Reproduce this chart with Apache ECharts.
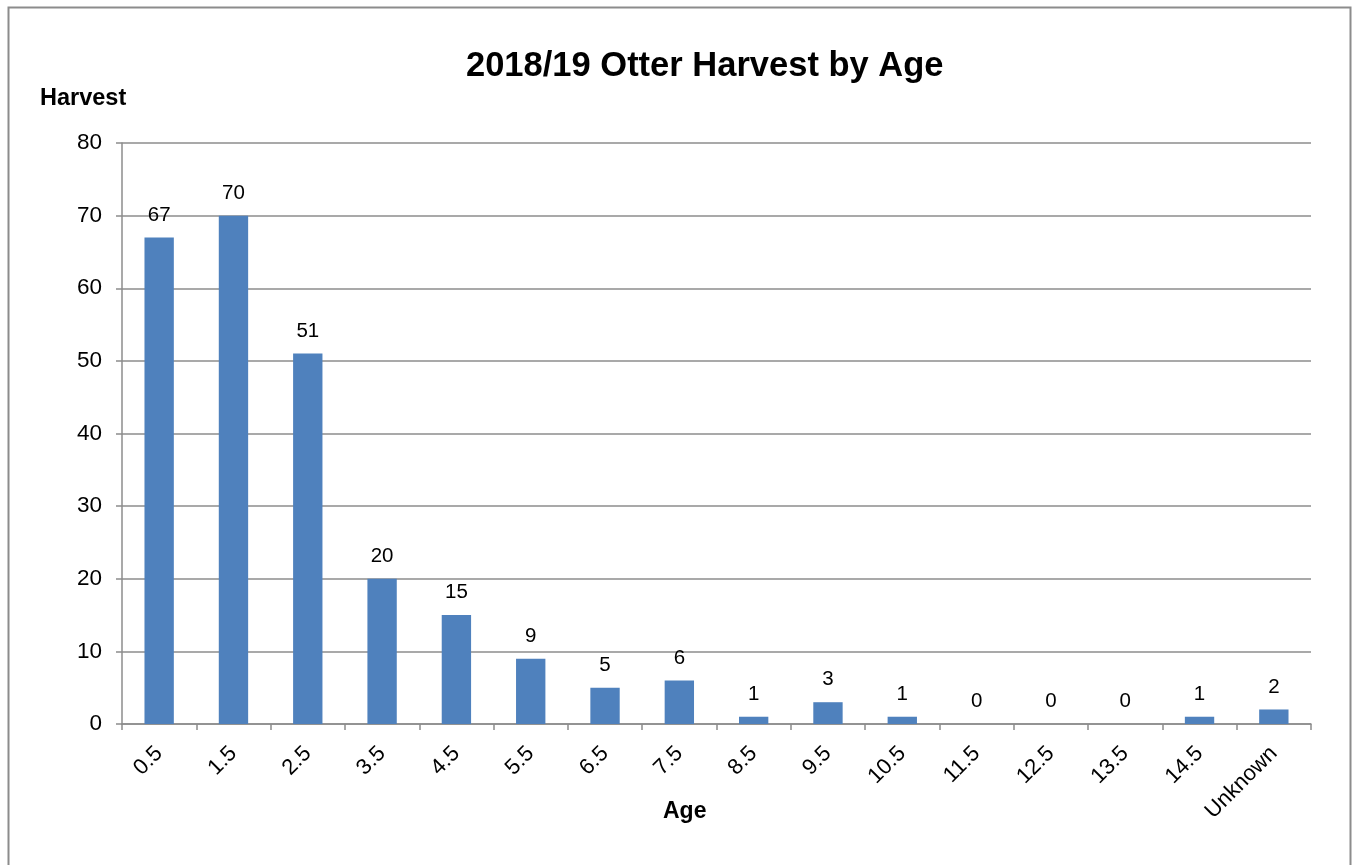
<!DOCTYPE html>
<html>
<head>
<meta charset="utf-8">
<script src="https://cdn.jsdelivr.net/npm/echarts@6/dist/echarts.min.js"></script>
<style>
html,body{margin:0;padding:0;background:#fff;}
#chart{width:1353px;height:865px;}
</style>
</head>
<body>
<div id="chart"></div>
<script>
const categories = ['0.5','1.5','2.5','3.5','4.5','5.5','6.5','7.5','8.5','9.5','10.5','11.5','12.5','13.5','14.5','Unknown'];
const harvest = [67,70,51,20,15,9,5,6,1,3,1,0,0,0,1,2];
const yTicks = {min:0, max:80, interval:10};

const chart = echarts.init(document.getElementById('chart'));
const font = '"Liberation Sans", Arial, sans-serif';
chart.setOption({
  animation:false,
  textStyle:{fontFamily:font},
  title:[
    {text:'2018/19 Otter Harvest by Age', left:461, top:44,
     textStyle:{fontFamily:font, fontSize:34.5, fontWeight:'bold', color:'#000'}},
    {text:'Harvest', left:40, top:87, padding:0,
     textStyle:{fontFamily:font, fontSize:23.5, fontWeight:'bold', color:'#000'}},
    {text:'Age', left:663, top:800, padding:0,
     textStyle:{fontFamily:font, fontSize:23, fontWeight:'bold', color:'#000'}}
  ],
  graphic:[{type:'rect', shape:{x:8.5,y:7.5,width:1342,height:870}, style:{fill:null, stroke:'#8c8c8c', lineWidth:2}, silent:true}],
  grid:{left:122, right:42, top:143, bottom:141, containLabel:false},
  xAxis:{
    type:'category', data:categories,
    axisLine:{lineStyle:{color:'#8c8c8c', width:1.5}},
    axisTick:{show:true, length:6, lineStyle:{color:'#8c8c8c', width:1.5}},
    axisLabel:{rotate:45, fontSize:22, color:'#000', fontFamily:font, margin:26, interval:0}
  },
  yAxis:{
    type:'value', min:yTicks.min, max:yTicks.max, interval:yTicks.interval,
    axisLine:{show:true, lineStyle:{color:'#8c8c8c', width:1.5}},
    axisTick:{show:true, length:6, lineStyle:{color:'#8c8c8c', width:1.5}},
    axisLabel:{fontSize:22.5, color:'#000', fontFamily:font, margin:20},
    splitLine:{lineStyle:{color:'#8c8c8c', width:1.5}}
  },
  series:[{
    type:'bar', data:harvest, barWidth:'39.5%',
    itemStyle:{color:'#4f81bd'},
    label:{show:true, position:'top', distance:12, fontSize:20.5, color:'#000', fontFamily:font}
  }]
});
</script>
</body>
</html>
